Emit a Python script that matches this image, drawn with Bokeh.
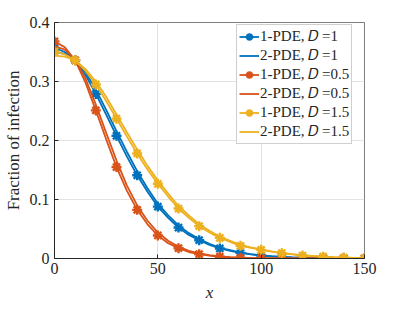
from bokeh.plotting import figure
from bokeh.models import Range1d, FixedTicker, Legend, LegendItem
from bokeh.embed import file_html
from bokeh.resources import INLINE

# x grid for lines (step 5) and markers (step 10)
x_line = list(range(0, 155, 5))
x_mark = list(range(0, 155, 10))

# D = 1
pde1_D1 = [0.357, 0.350, 0.336, 0.311, 0.279, 0.244, 0.208, 0.173, 0.141, 0.113, 0.088,
           0.069, 0.0525, 0.040, 0.031, 0.023, 0.017, 0.013, 0.0096, 0.007, 0.005,
           0.0035, 0.0025, 0.0018, 0.0012, 0.0009, 0.0006, 0.0004, 0.0003, 0.0002, 0.0001]
pde2_D1 = [0.350, 0.347, 0.337, 0.316, 0.286, 0.252, 0.216, 0.181, 0.148, 0.119, 0.093,
           0.073, 0.056, 0.043, 0.033, 0.025, 0.018, 0.014, 0.010, 0.0075, 0.0053,
           0.0038, 0.0027, 0.0019, 0.0013, 0.0009, 0.0006, 0.0004, 0.0003, 0.0002, 0.0001]
# D = 0.5
pde1_D05 = [0.368, 0.358, 0.336, 0.298, 0.251, 0.202, 0.155, 0.115, 0.0825, 0.058, 0.039,
            0.026, 0.0175, 0.011, 0.0073, 0.0047, 0.003, 0.0019, 0.0012, 0.0008, 0.0005,
            0.0003, 0.0002, 0.0001, 0.0001, 0.0001, 0.00005, 0.00005, 0.00003, 0.00002, 0.00001]
pde2_D05 = [0.360, 0.354, 0.337, 0.305, 0.261, 0.213, 0.166, 0.124, 0.090, 0.064, 0.044,
            0.030, 0.020, 0.013, 0.0085, 0.0055, 0.0035, 0.0022, 0.0014, 0.0009, 0.0006,
            0.0004, 0.0002, 0.0001, 0.0001, 0.0001, 0.00005, 0.00005, 0.00003, 0.00002, 0.00001]
# D = 1.5
pde1_D15 = [0.351, 0.346, 0.336, 0.318, 0.295, 0.267, 0.237, 0.207, 0.178, 0.151, 0.1266,
            0.105, 0.0847, 0.069, 0.0548, 0.044, 0.035, 0.028, 0.0215, 0.018, 0.0147,
            0.0115, 0.009, 0.007, 0.005, 0.004, 0.003, 0.0022, 0.0015, 0.0011, 0.0008]
pde2_D15 = [0.344, 0.342, 0.336, 0.321, 0.300, 0.274, 0.244, 0.214, 0.185, 0.157, 0.132,
            0.110, 0.089, 0.073, 0.058, 0.047, 0.037, 0.030, 0.023, 0.019, 0.0155,
            0.012, 0.0095, 0.0074, 0.0055, 0.0043, 0.0032, 0.0024, 0.0017, 0.0012, 0.0009]

labels = ["1-PDE, \U0001D437 =1", "2-PDE, \U0001D437 =1",
          "1-PDE, \U0001D437 =0.5", "2-PDE, \U0001D437 =0.5",
          "1-PDE, \U0001D437 =1.5", "2-PDE, \U0001D437 =1.5"]
x_ticks = [0, 50, 100, 150]
y_ticks = [0, 0.1, 0.2, 0.3, 0.4]

colors = ["#0072BD", "#D95319", "#EDB120"]
FONT = "Liberation Serif"
AX = "#262626"

p = figure(frame_width=310, frame_height=236, output_backend="svg", toolbar_location=None,
           x_range=Range1d(0, 150), y_range=Range1d(0, 0.4),
           min_border_left=44, min_border_right=29, min_border_top=22, min_border_bottom=40)
p.background_fill_color = "white"
p.border_fill_color = "white"
p.outline_line_color = AX
p.outline_line_width = 0.6

for ax, ticks in ((p.xaxis, x_ticks), (p.yaxis, y_ticks)):
    ax.ticker = FixedTicker(ticks=ticks)
    ax.major_tick_in = 4
    ax.major_tick_out = 0
    ax.minor_tick_line_color = None
    ax.axis_line_color = AX
    ax.major_tick_line_color = AX
    ax.major_label_text_font = FONT
    ax.major_label_text_font_size = "16px"
    ax.major_label_text_color = AX
    ax.axis_label_text_font = FONT
    ax.axis_label_text_font_size = "17px"
    ax.axis_label_text_color = AX
    ax.axis_label_text_font_style = "normal"

p.yaxis.major_label_overrides = {0: "0"}
p.xaxis.axis_label = "x"
p.xaxis.axis_label_text_font_style = "italic"
p.yaxis.axis_label = "Fraction of infection"
p.xaxis.major_label_standoff = 4
p.yaxis.major_label_standoff = 5
p.xaxis.axis_label_standoff = 6
p.yaxis.axis_label_standoff = 4

p.grid.grid_line_color = "#e3e3e3"
p.xgrid.ticker = FixedTicker(ticks=x_ticks)
p.ygrid.ticker = FixedTicker(ticks=y_ticks)

items = []
series = [(pde1_D1, pde2_D1), (pde1_D05, pde2_D05), (pde1_D15, pde2_D15)]
for i, (s1, s2) in enumerate(series):
    c = colors[i]
    l2 = p.line(x_line, s2, line_color=c, line_width=1.8)
    l1 = p.line(x_line, s1, line_color=c, line_width=1.8)
    m1 = p.scatter(x_mark, s1[::2], marker="asterisk", size=10, line_color=c, line_width=2.4)
    items.append(LegendItem(label=labels[2 * i], renderers=[l1, m1]))
    items.append(LegendItem(label=labels[2 * i + 1], renderers=[l2]))

legend = Legend(items=items, location=(182, 114))
legend.label_text_font = FONT
legend.label_text_font_size = "15px"
legend.label_text_color = AX
legend.label_height = 19
legend.glyph_height = 19
legend.glyph_width = 20
legend.label_standoff = 1
legend.spacing = 0
legend.padding = 2
legend.margin = 0
legend.border_line_color = "#a0a0a0"
legend.border_line_width = 1
legend.background_fill_alpha = 1
p.add_layout(legend)

open("out.html", "w").write(file_html(p, INLINE))
